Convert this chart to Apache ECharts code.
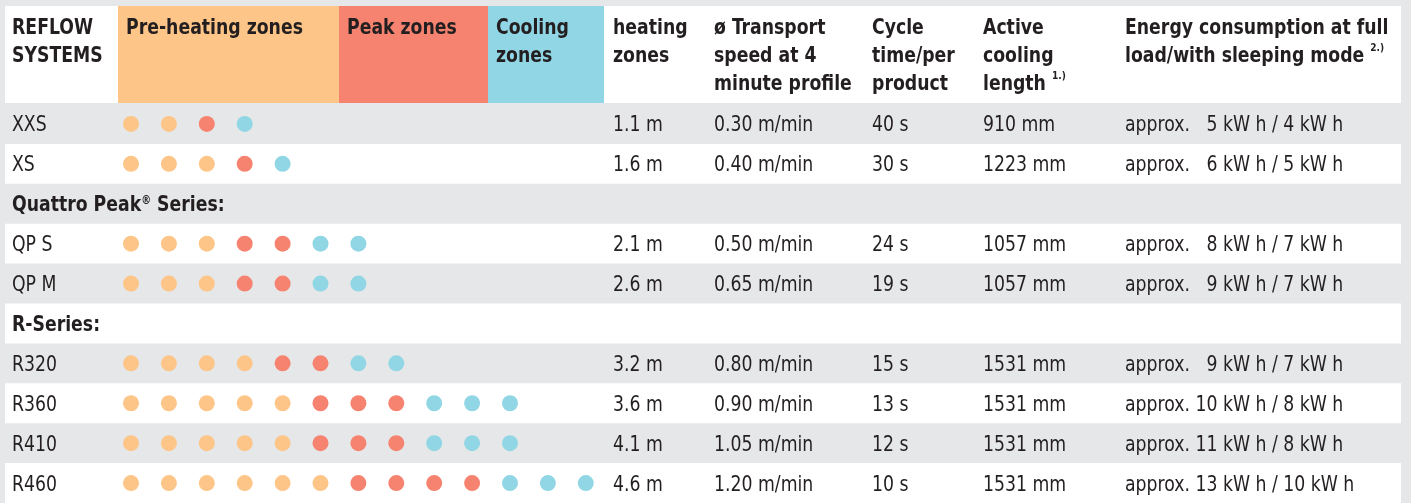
<!DOCTYPE html>
<html><head><meta charset="utf-8">
<script src="https://cdn.jsdelivr.net/npm/echarts@6/dist/echarts.min.js"></script>
<style>html,body{margin:0;padding:0;background:#e6e7e8}#c{width:1411px;height:503px}</style>
</head><body><div id="c"></div>
<script>
// ---- DATA ----
const rowLabels = ['XXS','XS','Quattro Peak® Series:','QP S','QP M','R-Series:','R320','R360','R410','R460'];
const groupRow  = [false,false,true,false,false,true,false,false,false,false];
const preheatZones = [2,3,null,3,3,null,4,5,5,6];
const peakZones    = [1,1,null,2,2,null,2,3,3,4];
const coolingZones = [1,1,null,2,2,null,2,3,3,3];
const heatingLength = [1.1,1.6,null,2.1,2.6,null,3.2,3.6,4.1,4.6];
const transportSpeed = [0.30,0.40,null,0.50,0.65,null,0.80,0.90,1.05,1.20];
const cycleTime = [40,30,null,24,19,null,15,13,12,10];
const coolingLength = [910,1223,null,1057,1057,null,1531,1531,1531,1531];
const energyFull = [5,6,null,8,9,null,9,10,11,13];
const energySleep = [4,5,null,7,7,null,7,8,8,10];
const headerTexts = {
  system: 'REFLOW\nSYSTEMS',
  preheat: 'Pre-heating zones',
  peak: 'Peak zones',
  cooling: 'Cooling\nzones',
  heat: 'heating\nzones',
  speed: 'ø Transport\nspeed at 4\nminute profile',
  cycle: 'Cycle\ntime/per\nproduct',
  cool: 'Active\ncooling\nlength {s|1.)}',
  energy: 'Energy consumption at full\nload/with sleeping mode {s|2.)}'
};

// ---- LAYOUT / STYLE ----
const FONT = '"Liberation Sans Narrow","DejaVu Sans Condensed","Liberation Sans",sans-serif';
const TXT = '#231f20';
const C_PRE = '#fdc588', C_PEAK = '#f6836f', C_COOL = '#91d6e5';
const DOT_X0 = 131, DOT_STEP = 37.9, W = 1411;
const COLX = {label:12, heat:613, speed:714, cycle:872, cool:983, energy:1125};
const BODY_FS = 21, HEAD_FS = 21, SX = 0.915;

function fmtEnergy(a,b){
  const pad = a < 10 ? '\u2007' : '';
  return 'approx. ' + pad + a + ' kW h / ' + b + ' kW h';
}

const dotSeries = (counts, offsetFn, color, name) => {
  const d = [];
  counts.forEach((n,i)=>{ if(n==null) return; const off = offsetFn(i); for(let k=0;k<n;k++) d.push([off+k, i]); });
  return {type:'scatter', name, data:d, symbol:'circle', symbolSize:16, itemStyle:{color, opacity:1}, z:5, silent:true};
};

const chart = echarts.init(document.getElementById('c'), null, {renderer:'canvas'});
const option = {
  backgroundColor:'#e6e7e8',
  animation:false,
  grid:{left:0, top:104, width:W, height:400},
  xAxis:{type:'value', min:-DOT_X0/DOT_STEP, max:(W-DOT_X0)/DOT_STEP, show:false},
  yAxis:{type:'category', data:rowLabels, inverse:true, show:false},
  graphic:[
    {type:'rect', shape:{x:5,y:6,width:1396,height:97}, style:{fill:'#fff'}, z:0},
    {type:'rect', shape:{x:118,y:6,width:221,height:97}, style:{fill:C_PRE}, z:1},
    {type:'rect', shape:{x:339,y:6,width:149,height:97}, style:{fill:C_PEAK}, z:1},
    {type:'rect', shape:{x:488,y:6,width:116,height:97}, style:{fill:C_COOL}, z:1},
    ...[['system',12],['preheat',126],['peak',347],['cooling',496],['heat',COLX.heat],['speed',COLX.speed],['cycle',COLX.cycle],['cool',COLX.cool],['energy',COLX.energy]].map(([k,x])=>({
      type:'text', x, y:15, z:2, scaleX:SX,
      style:{text:headerTexts[k], font:'bold '+HEAD_FS+'px '+FONT, fill:TXT, lineHeight:28, verticalAlign:'top',
        rich:{s:{fontSize:11, fontWeight:'bold', fontFamily:FONT, fill:TXT, verticalAlign:'top', lineHeight:20}}}
    }))
  ],
  series:[
    {
      type:'custom', z:1, silent:true,
      data: rowLabels.map((_,i)=>[0,i]),
      encode:{x:0,y:1},
      renderItem:(params, api)=>{
        const i = api.value(1);
        const c = api.coord([0,i]);
        const h = api.size([0,1])[1];
        const yc = c[1];
        const children = [];
        if (i % 2 === 1) children.push({type:'rect', shape:{x:5, y:yc-h/2, width:1396, height:h}, style:{fill:'#fff'}});
        const t = (x, text, bold, rich) => ({type:'text', x, y:yc+2, scaleX:SX, style:{text, font:(bold?'bold ':'')+BODY_FS+'px '+FONT, fill:TXT, verticalAlign:'middle', rich}});
        if (groupRow[i]) {
          const lbl = rowLabels[i].replace('®', '{r|®}');
          children.push(t(COLX.label, lbl, true, {r:{fontSize:12, fontWeight:'bold', fontFamily:FONT, fill:TXT, verticalAlign:'top', lineHeight:22}}));
        } else {
          children.push(t(COLX.label, rowLabels[i]));
          children.push(t(COLX.heat, heatingLength[i].toFixed(1)+' m'));
          children.push(t(COLX.speed, transportSpeed[i].toFixed(2)+' m/min'));
          children.push(t(COLX.cycle, cycleTime[i]+' s'));
          children.push(t(COLX.cool, coolingLength[i]+' mm'));
          children.push(t(COLX.energy, fmtEnergy(energyFull[i], energySleep[i])));
        }
        return {type:'group', children};
      }
    },
    dotSeries(preheatZones, ()=>0, C_PRE, 'Pre-heating'),
    dotSeries(peakZones, i=>preheatZones[i], C_PEAK, 'Peak'),
    dotSeries(coolingZones, i=>preheatZones[i]+peakZones[i], C_COOL, 'Cooling')
  ]
};
chart.setOption(option);
</script></body></html>
